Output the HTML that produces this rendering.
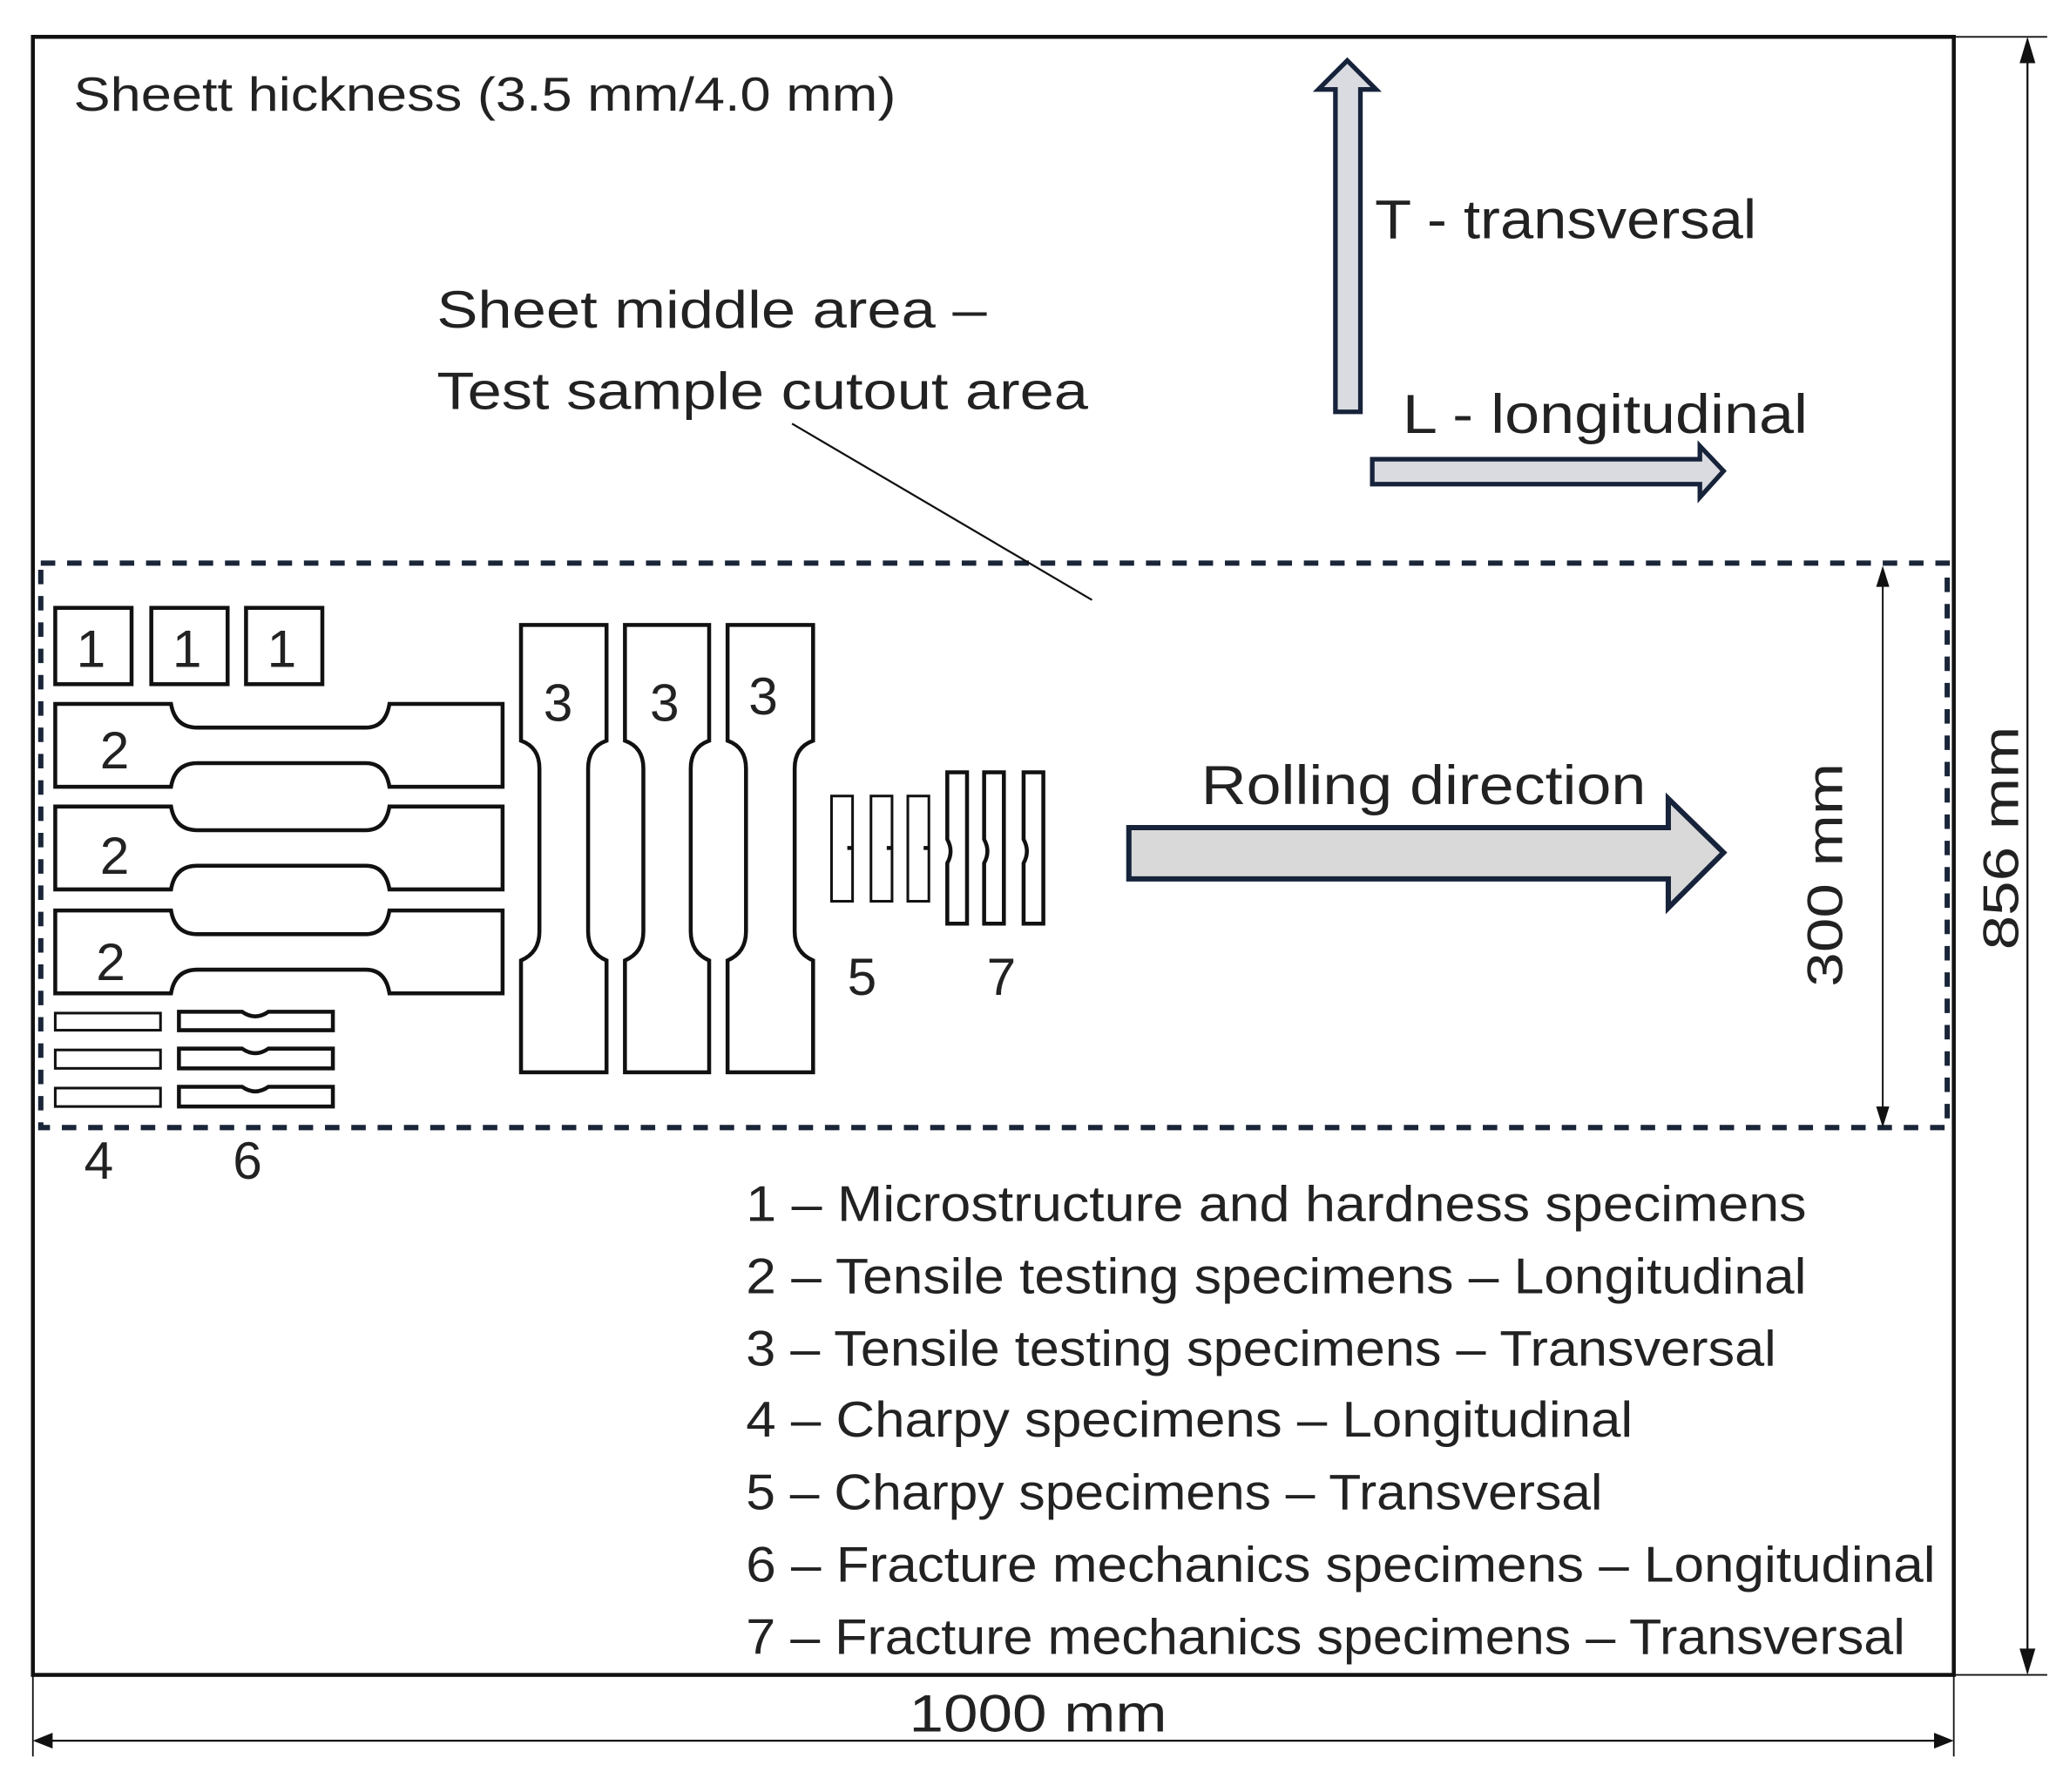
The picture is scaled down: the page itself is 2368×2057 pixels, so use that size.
<!DOCTYPE html>
<html><head><meta charset="utf-8"><style>
html,body{margin:0;padding:0;background:#fff;}
svg{display:block;}
text{font-family:"Liberation Sans",sans-serif;fill:#222;}
</style></head><body>
<svg width="2368" height="2057" viewBox="0 0 1568 1362" preserveAspectRatio="none" xmlns="http://www.w3.org/2000/svg">
<rect width="1568" height="1362" fill="#fff"/>
<!-- outer frame -->
<rect x="25" y="28" width="1460" height="1245" fill="none" stroke="#111" stroke-width="3"/>
<!-- right dimension -->
<line x1="1485" y1="28" x2="1556" y2="28" stroke="#111" stroke-width="1.2"/>
<line x1="1485" y1="1273" x2="1556" y2="1273" stroke="#111" stroke-width="1.2"/>
<line x1="1541" y1="30" x2="1541" y2="1271" stroke="#111" stroke-width="1.5"/>
<polygon points="1541,28 1535,48 1547,48" fill="#111"/>
<polygon points="1541,1273 1535,1253 1547,1253" fill="#111"/>
<text x="0" y="0" font-size="38" transform="translate(1534,722) rotate(-90)" textLength="170" lengthAdjust="spacingAndGlyphs">856 mm</text>
<!-- bottom dimension -->
<line x1="25" y1="1273" x2="25" y2="1335" stroke="#111" stroke-width="1.2"/>
<line x1="1485" y1="1273" x2="1485" y2="1335" stroke="#111" stroke-width="1.2"/>
<line x1="27" y1="1323" x2="1483" y2="1323" stroke="#111" stroke-width="1.5"/>
<polygon points="25,1323 40,1317 40,1329" fill="#111"/>
<polygon points="1485,1323 1470,1317 1470,1329" fill="#111"/>
<text x="691" y="1316" font-size="40" textLength="196" lengthAdjust="spacingAndGlyphs">1000 mm</text>
<!-- dashed area -->
<rect x="31" y="428" width="1449" height="429" fill="none" stroke="#1a2538" stroke-width="4" stroke-dasharray="11,9"/>
<!-- 300 mm -->
<line x1="1431" y1="436" x2="1431" y2="850" stroke="#111" stroke-width="1.3"/>
<polygon points="1431,430 1426,446 1436,446" fill="#111"/>
<polygon points="1431,857 1426,841 1436,841" fill="#111"/>
<text x="0" y="0" font-size="38" transform="translate(1400,750) rotate(-90)" textLength="170" lengthAdjust="spacingAndGlyphs">300 mm</text>
<!-- top labels -->
<text x="56" y="84" font-size="36" textLength="625" lengthAdjust="spacingAndGlyphs">Sheett hickness (3.5 mm/4.0 mm)</text>
<text x="332" y="249" font-size="40" textLength="418" lengthAdjust="spacingAndGlyphs">Sheet middle area –</text>
<text x="332" y="311" font-size="40" textLength="495" lengthAdjust="spacingAndGlyphs">Test sample cutout area</text>
<line x1="602" y1="322" x2="830" y2="456" stroke="#111" stroke-width="1.5"/>
<!-- T arrow -->
<polygon points="1015,313 1034,313 1034,68 1046,68 1024,46 1002,68 1015,68" fill="#d9dbe0" stroke="#16233a" stroke-width="3.5" stroke-linejoin="miter"/>
<text x="1045" y="181" font-size="42" textLength="290" lengthAdjust="spacingAndGlyphs">T - transversal</text>
<text x="1066" y="329" font-size="42" textLength="308" lengthAdjust="spacingAndGlyphs">L - longitudinal</text>
<polygon points="1043,349 1292,349 1292,339 1310,358 1292,378 1292,368 1043,368" fill="#d9dbe0" stroke="#16233a" stroke-width="3.5"/>
<!-- rolling direction -->
<text x="913" y="611" font-size="42" textLength="338" lengthAdjust="spacingAndGlyphs">Rolling direction</text>
<polygon points="858,629 1268,629 1268,607 1310,648 1268,690 1268,668 858,668" fill="#d9d9d9" stroke="#16233a" stroke-width="4"/>
<!-- specimens 1 -->
<g fill="none" stroke="#111" stroke-width="3">
<rect x="42" y="462" width="58" height="58"/>
<rect x="115" y="462" width="58" height="58"/>
<rect x="187" y="462" width="58" height="58"/>
</g>
<g font-size="40">
<text x="58" y="507">1</text><text x="131" y="507">1</text><text x="203" y="507">1</text>
</g>
<!-- specimens 2 -->
<g fill="none" stroke="#111" stroke-width="3">
<path d="M42,535 H130 Q133,553 150,553 H278 Q293,553 296,535 H382 V598 H296 Q293,580 278,580 H150 Q133,580 130,598 H42 Z"/>
<path d="M42,613 H130 Q133,631 150,631 H278 Q293,631 296,613 H382 V676 H296 Q293,658 278,658 H150 Q133,658 130,676 H42 Z"/>
<path d="M42,692 H130 Q133,710 150,710 H278 Q293,710 296,692 H382 V755 H296 Q293,737 278,737 H150 Q133,737 130,755 H42 Z"/>
</g>
<g font-size="40"><text x="76" y="584">2</text><text x="76" y="664">2</text><text x="73" y="745">2</text></g>
<!-- specimens 3 -->
<g fill="none" stroke="#111" stroke-width="3">
<path d="M396,475 H461 V563 Q447,568 447,584 V708 Q447,724 461,730 V815 H396 V730 Q410,724 410,708 V584 Q410,568 396,563 Z"/>
<path d="M475,475 H539 V563 Q525,568 525,584 V708 Q525,724 539,730 V815 H475 V730 Q489,724 489,708 V584 Q489,568 475,563 Z"/>
<path d="M553,475 H618 V563 Q604,568 604,584 V708 Q604,724 618,730 V815 H553 V730 Q567,724 567,708 V584 Q567,568 553,563 Z"/>
</g>
<g font-size="40"><text x="413" y="548">3</text><text x="494" y="548">3</text><text x="569" y="543">3</text></g>
<!-- specimens 5 -->
<g fill="none" stroke="#111" stroke-width="2">
<rect x="632" y="605" width="16" height="80"/>
<rect x="662" y="605" width="16" height="80"/>
<rect x="690" y="605" width="16" height="80"/>
</g>
<g fill="#111"><rect x="644" y="643" width="4" height="3"/><rect x="674" y="643" width="4" height="3"/><rect x="702" y="643" width="4" height="3"/></g>
<!-- specimens 7 -->
<g fill="none" stroke="#111" stroke-width="3">
<path d="M720,587 H735 V702 H720 V656 Q725,647 720,638 Z"/>
<path d="M748,587 H763 V702 H748 V656 Q753,647 748,638 Z"/>
<path d="M778,587 H793 V702 H778 V656 Q783,647 778,638 Z"/>
</g>
<g font-size="40"><text x="644" y="756">5</text><text x="750" y="756">7</text></g>
<!-- specimens 4 -->
<g fill="none" stroke="#111" stroke-width="2">
<rect x="42" y="770" width="80" height="13"/>
<rect x="42" y="798" width="80" height="14"/>
<rect x="42" y="827" width="80" height="14"/>
</g>
<!-- specimens 6 -->
<g fill="none" stroke="#111" stroke-width="3">
<path d="M136,769 H184 Q194,776 204,769 H253 V783 H136 Z"/>
<path d="M136,797 H184 Q194,804 204,797 H253 V812 H136 Z"/>
<path d="M136,826 H184 Q194,833 204,826 H253 V841 H136 Z"/>
</g>
<g font-size="40"><text x="64" y="896">4</text><text x="177" y="896">6</text></g>
<!-- legend -->
<g font-size="38">
<text x="567" y="928" textLength="806" lengthAdjust="spacingAndGlyphs">1 – Microstructure and hardness specimens</text>
<text x="567" y="983" textLength="806" lengthAdjust="spacingAndGlyphs">2 – Tensile testing specimens – Longitudinal</text>
<text x="567" y="1038" textLength="783" lengthAdjust="spacingAndGlyphs">3 – Tensile testing specimens – Transversal</text>
<text x="567" y="1092" textLength="674" lengthAdjust="spacingAndGlyphs">4 – Charpy specimens – Longitudinal</text>
<text x="567" y="1147" textLength="651" lengthAdjust="spacingAndGlyphs">5 – Charpy specimens – Transversal</text>
<text x="567" y="1202" textLength="904" lengthAdjust="spacingAndGlyphs">6 – Fracture mechanics specimens – Longitudinal</text>
<text x="567" y="1257" textLength="881" lengthAdjust="spacingAndGlyphs">7 – Fracture mechanics specimens – Transversal</text>
</g>
</svg>
</body></html>
